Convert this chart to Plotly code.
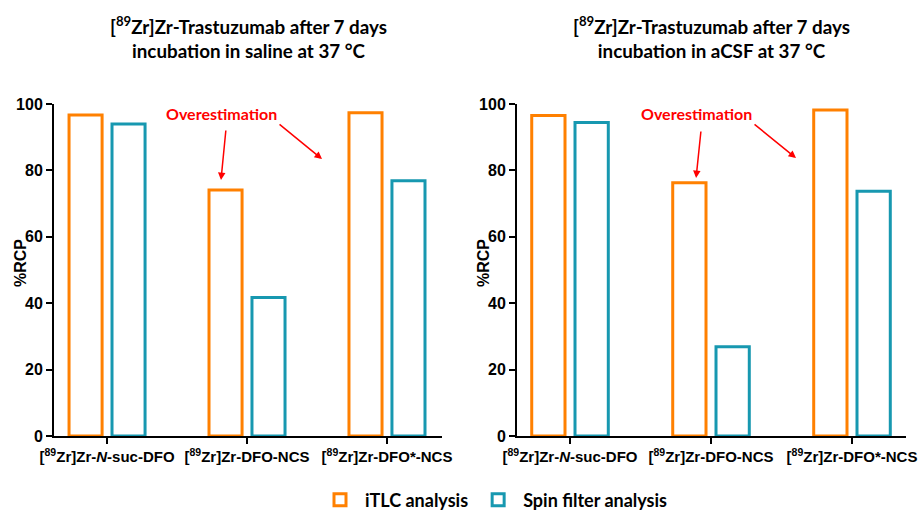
import plotly.graph_objects as go
from plotly.subplots import make_subplots

categories = ["[<sup>89</sup>Zr]Zr-<i>N</i>-suc-DFO", "[<sup>89</sup>Zr]Zr-DFO-NCS", "[<sup>89</sup>Zr]Zr-DFO*-NCS"]
saline_itlc = [96.7, 74.1, 97.4]
saline_spin = [94.0, 41.7, 76.9]
acsf_itlc = [96.5, 76.3, 98.2]
acsf_spin = [94.4, 26.9, 73.7]
y_ticks = [0, 20, 40, 60, 80, 100]
titles = ["[<sup>89</sup>Zr]Zr-Trastuzumab after 7 days<br>incubation in saline at 37 °C",
          "[<sup>89</sup>Zr]Zr-Trastuzumab after 7 days<br>incubation in aCSF at 37 °C"]

ORANGE = "#FF8000"
TEAL = "#1798B0"
ARIAL = "Liberation Sans, Arial"
CAL = "Lato, Open Sans, sans-serif"

W, H = 919, 512

fig = make_subplots(rows=1, cols=2)
x_idx = list(range(len(categories)))
for col, (it, sp) in enumerate([(saline_itlc, saline_spin), (acsf_itlc, acsf_spin)], start=1):
    fig.add_trace(go.Bar(x=x_idx, y=it, name="iTLC analysis", showlegend=(col == 1),
                         marker=dict(color="white", line=dict(color=ORANGE, width=3)),
                         legendgroup="itlc"), row=1, col=col)
    fig.add_trace(go.Bar(x=x_idx, y=sp, name="Spin filter analysis", showlegend=(col == 1),
                         marker=dict(color="white", line=dict(color=TEAL, width=3)),
                         legendgroup="spin"), row=1, col=col)

axis_common = dict(showline=True, linecolor="black", linewidth=2, ticks="outside",
                   tickwidth=2, tickcolor="black", ticklen=6, showgrid=False, zeroline=False,
                   automargin=False)
xfont = dict(family=ARIAL, size=15, color="black", weight="bold")
yfont = dict(family=ARIAL, size=16, color="black", weight="bold")

ydom = [1 - 436 / H, 1 - 104 / H]
fig.update_layout(
    xaxis=dict(domain=[54 / W, 442 / W], range=[-0.379, 2.393], tickvals=x_idx, ticktext=categories,
               tickfont=xfont, **axis_common),
    xaxis2=dict(domain=[517 / W, 906 / W], range=[-0.376, 2.383], tickvals=x_idx, ticktext=categories,
                tickfont=xfont, **axis_common),
    yaxis=dict(domain=ydom, range=[0, 100], tickvals=y_ticks, tickfont=yfont, **axis_common),
    yaxis2=dict(domain=ydom, range=[0, 100], tickvals=y_ticks, tickfont=yfont, **axis_common),
    barmode="group", bargap=0.386, bargroupgap=0.231,
    width=W, height=H, margin=dict(l=0, r=0, t=0, b=0, autoexpand=False),
    plot_bgcolor="white", paper_bgcolor="white",
    legend=dict(orientation="h", x=494 / W, xanchor="center", y=-0.013, yanchor="bottom",
                font=dict(family=CAL, size=18, color="black", weight="bold"),
                itemwidth=40, traceorder="normal"),
)

# Y axis titles
for xc in [20 / W, 483 / W]:
    fig.add_annotation(text="%RCP", x=xc, y=1 - 263 / H, xref="paper", yref="paper", showarrow=False,
                       textangle=-90, xanchor="center", yanchor="middle", font=yfont)

# Titles
for xc, t in zip([248 / W, 711 / W], titles):
    fig.add_annotation(text=t, x=xc, y=1 - 37 / H, xref="paper", yref="paper", showarrow=False,
                       xanchor="center", yanchor="middle",
                       font=dict(family=CAL, size=18.8, color="black", weight="bold"), align="center")

# Overestimation labels and arrows
specs = [("x", "y", 0.82, [(0.814, 77.1, 5, -51), (1.536, 83.4, -44, -36)]),
         ("x2", "y2", 0.90, [(0.894, 77.7, 5, -48), (1.603, 83.7, -43, -35)])]
for xr, yr, tx, arrows in specs:
    fig.add_annotation(text="Overestimation", x=tx, y=97, xref=xr, yref=yr, showarrow=False,
                       font=dict(family=CAL, size=16, color="#FF0000", weight="bold"))
    for hx, hy, ax, ay in arrows:
        fig.add_annotation(text="", x=hx, y=hy, xref=xr, yref=yr, ax=ax, ay=ay, showarrow=True,
                           arrowhead=2, arrowsize=1, arrowwidth=1.5, arrowcolor="#FF0000")

fig.write_html("out.html", config={"displayModeBar": False},
               post_script="document.body.style.margin='0';document.body.style.overflow='hidden';")
